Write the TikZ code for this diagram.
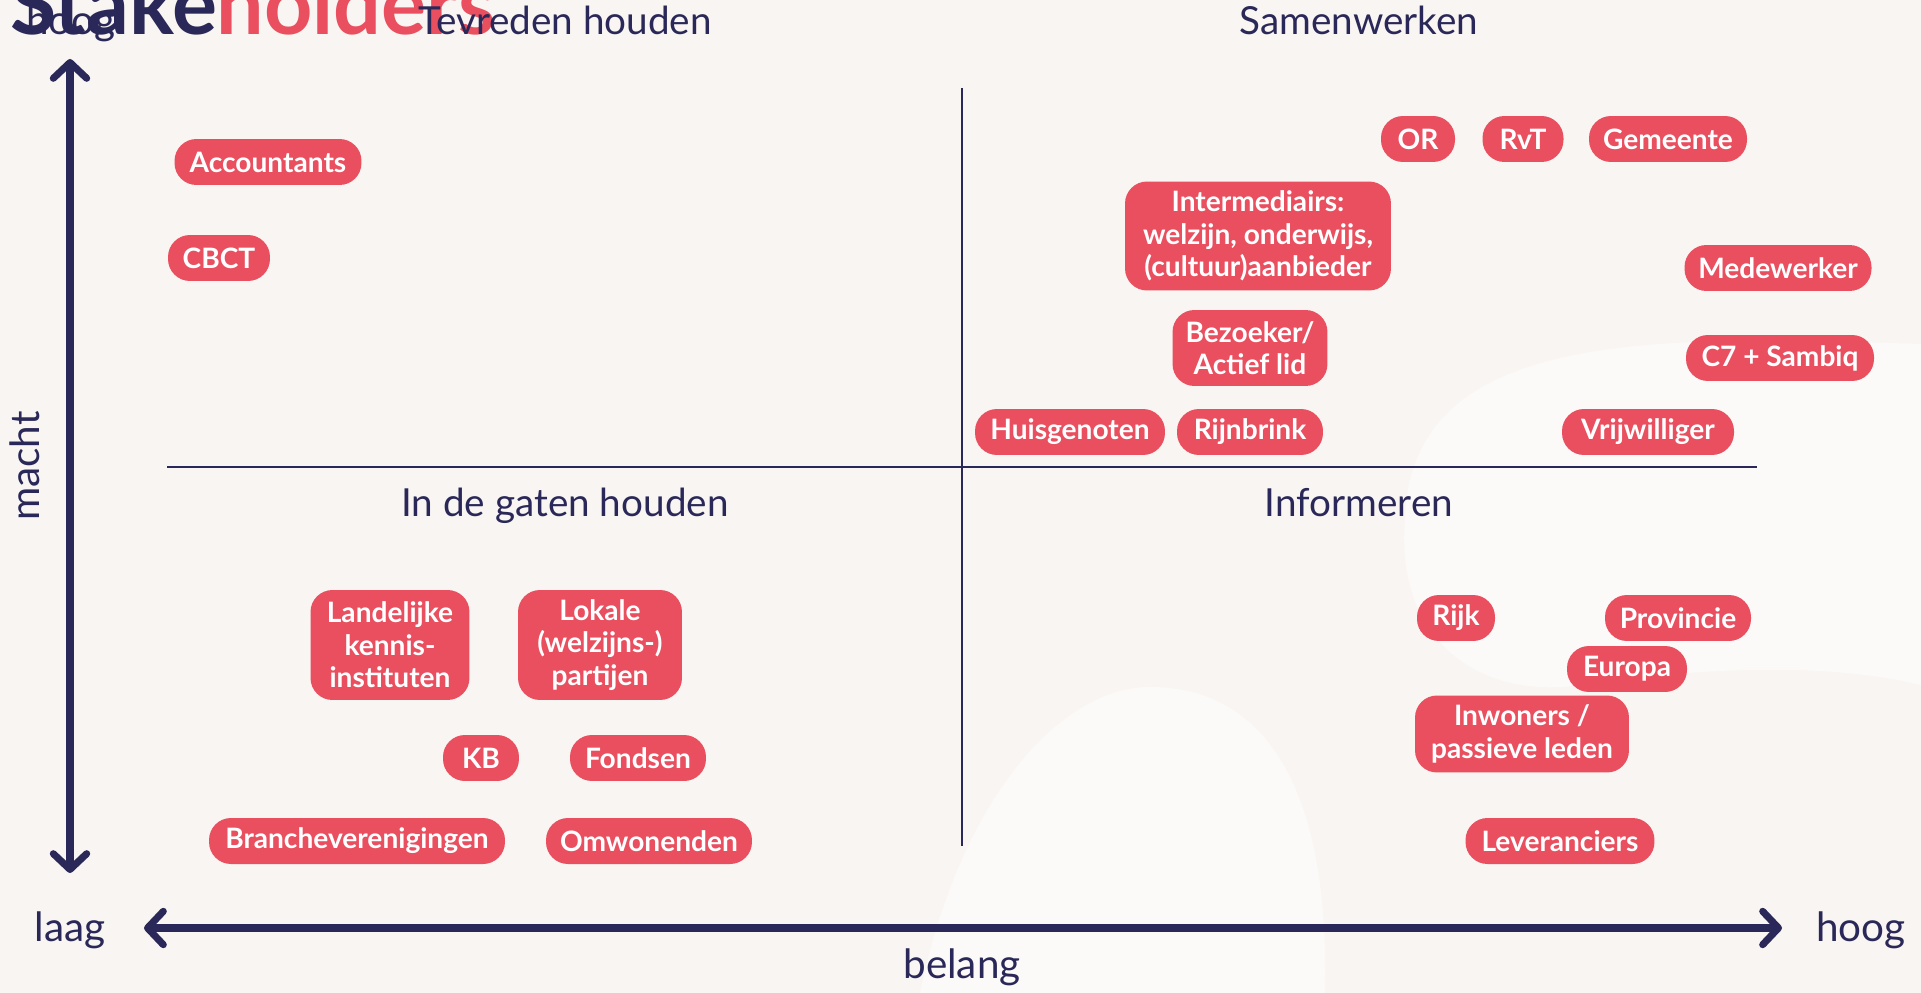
\documentclass[tikz,border=0pt]{standalone}
\usepackage{fontspec}
\setmainfont{Lato}
\usepackage{tikz}
\usetikzlibrary{arrows.meta}
\usepackage{xcolor}
\definecolor{navy}{HTML}{2A2858}
\definecolor{coral}{HTML}{E94F5F}
\definecolor{paper}{HTML}{F9F5F2}
\definecolor{paperlight}{HTML}{FCFAF8}

\begin{document}
\begin{tikzpicture}
        [   x = 0.02cm
        ,   y = -0.02cm
        ,   pill/.style =
            {   fill = coral
            ,   text = white
            ,   rounded corners = 12.5pt
            ,   minimum height = 0.92cm
            ,   inner sep = 0pt
            ,   align = center
            ,   font = \fontsize{16}{18.5}\selectfont\bfseries
            }
        ,   quadrant/.style =
            {   text = navy
            ,   anchor = base
            ,   inner sep = 0pt
            ,   font = \fontsize{22}{26}\selectfont
            }
        ,   axislabel/.style =
            {   quadrant
            ,   font = \fontsize{23}{27}\selectfont
            }
        ,   axis/.style =
            {   draw = navy
            ,   line width = 4pt
            ,   {Straight Barb[length=9pt,width=19pt,round]}-{Straight Barb[length=9pt,width=19pt,round]}
            }
        ,   divider/.style =
            {   draw = navy
            ,   line width = 1.4pt
            }
        ]
        \useasboundingbox (0,0) rectangle (1921,993);
        \fill[paper] (0,0) rectangle (1921,993);
        \fill[paperlight] (1921,344) .. controls (1650,335) and (1410,330) .. (1405,520)
            .. controls (1395,640) and (1480,700) .. (1580,685)
            .. controls (1680,670) and (1820,660) .. (1921,685) -- cycle;
        \fill[paperlight] (920,993) .. controls (960,800) and (1060,687) .. (1150,687)
            .. controls (1260,687) and (1330,780) .. (1325,993) -- cycle;

        \node[axislabel] (hoogmacht) at (71,35) {hoog};
        \node[anchor = base west, inner sep = 0pt, font = \fontsize{48}{54}\selectfont\bfseries]
            (titel) at (10,35) {\textcolor{navy}{Stake}\textcolor{coral}{holders}};

        \node[quadrant] (tevreden) at (565,35) {Tevreden houden};
        \node[quadrant] (samenwerken) at (1359,35) {Samenwerken};
        \node[quadrant] (gaten) at (565,516) {In de gaten houden};
        \node[quadrant] (informeren) at (1359,516) {Informeren};

        \node[axislabel] (laag) at (70,941) {laag};
        \node[axislabel] (hoogbelang) at (1861,941) {hoog};
        \node[axislabel] (belang) at (962,978) {belang};
        \node[axislabel, rotate = 90] (macht) at (39,466) {macht};

        \coordinate (machtboven) at (70,59);
        \coordinate (machtonder) at (70,873);
        \coordinate (belanglinks) at (144,928);
        \coordinate (belangrechts) at (1782,928);
        \coordinate (middenboven) at (962,88);
        \coordinate (middenonder) at (962,846);
        \coordinate (middenlinks) at (167,467);
        \coordinate (middenrechts) at (1757,467);

        \draw[divider] (middenboven) -- (middenonder);
        \draw[divider] (middenlinks) -- (middenrechts);
        \draw[axis] (machtonder) -- (machtboven);
        \draw[axis] (belanglinks) -- (belangrechts);

        \node[pill, minimum width = 3.74cm] (accountants) at (268,162) {Accountants};
        \node[pill, minimum width = 2.04cm] (cbct) at (219,258) {CBCT};

        \node[pill, minimum width = 1.48cm] (or) at (1418,139) {OR};
        \node[pill, minimum width = 1.62cm] (rvt) at (1523,139) {RvT};
        \node[pill, minimum width = 3.16cm] (gemeente) at (1668,139) {Gemeente};
        \node[pill, minimum width = 5.32cm, minimum height = 2.18cm]
            (intermediairs) at (1258,236) {Intermediairs:\\welzijn, onderwijs,\\(cultuur)aanbieder};
        \node[pill, minimum width = 3.74cm] (medewerker) at (1778,268) {Medewerker};
        \node[pill, minimum width = 3.1cm, minimum height = 1.52cm]
            (bezoeker) at (1250,348) {Bezoeker/\\Actief lid};
        \node[pill, minimum width = 3.76cm] (c7) at (1780,358) {C7 + Sambiq};
        \node[pill, minimum width = 3.8cm] (huisgenoten) at (1070,432) {Huisgenoten};
        \node[pill, minimum width = 2.92cm] (rijnbrink) at (1250,432) {Rijnbrink};
        \node[pill, minimum width = 3.44cm] (vrijwilliger) at (1648,432) {Vrijwilliger};

        \node[pill, minimum width = 3.18cm, minimum height = 2.2cm]
            (landelijke) at (390,645) {Landelijke\\kennis-\\instituten};
        \node[pill, minimum width = 3.28cm, minimum height = 2.2cm]
            (lokale) at (600,645) {Lokale\\(welzijns-)\\partijen};
        \node[pill, minimum width = 1.52cm] (kb) at (481,758) {KB};
        \node[pill, minimum width = 2.72cm] (fondsen) at (638,758) {Fondsen};
        \node[pill, minimum width = 5.92cm] (branche) at (357,841) {Brancheverenigingen};
        \node[pill, minimum width = 4.12cm] (omwonenden) at (649,841) {Omwonenden};

        \node[pill, minimum width = 1.56cm] (rijk) at (1456,618) {Rijk};
        \node[pill, minimum width = 2.92cm] (provincie) at (1678,618) {Provincie};
        \node[pill, minimum width = 2.4cm] (europa) at (1627,669) {Europa};
        \node[pill, minimum width = 4.28cm, minimum height = 1.54cm]
            (inwoners) at (1522,734) {Inwoners /\\passieve leden};
        \node[pill, minimum width = 3.78cm] (leveranciers) at (1560,841) {Leveranciers};
    \end{tikzpicture}
\end{document}
